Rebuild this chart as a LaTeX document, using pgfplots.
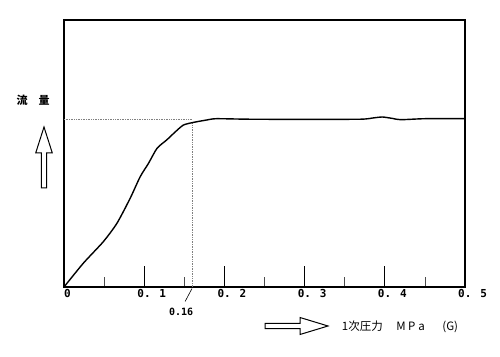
\documentclass[border=0pt]{standalone}
\usepackage{pgfplots}
\pgfplotsset{compat=1.18}
\usepackage{fontspec}
\setmainfont{Noto Sans CJK JP}
\newfontfamily\mono{DejaVu Sans Mono}
\begin{document}
\begin{tikzpicture}
\path[use as bounding box] (0,0) rectangle (500bp,357bp);
\begin{axis}[
  at={(64bp,70bp)}, anchor=south west,
  scale only axis, width=401bp, height=267bp,
  xmin=0, xmax=0.5, ymin=0, ymax=267,
  axis line style={line width=1.2bp},
  xtick={0,0.1,0.2,0.3,0.4,0.5},
  xticklabels={{\hspace*{7bp}0},{0. 1},{0. 2},{0. 3},{0. 4},{0. 5}},
  minor xtick={0.05,0.15,0.25,0.35,0.45},
  ytick=\empty,
  xtick pos=bottom, xtick align=inside,
  major tick length=21bp, minor tick length=10bp,
  every major tick/.append style={line width=1.1bp, black},
  every minor tick/.append style={line width=0.7bp, black!70},
  xticklabel style={font=\mono\bfseries\fontsize{11bp}{11bp}\selectfont, anchor=north west, inner sep=0pt, xshift=-7bp, yshift=-2.3bp},
  clip=false,
]
\addplot[gray, line width=0.7bp, densely dotted] coordinates {(0,168) (0.16,168)};
\addplot[gray, line width=0.7bp, densely dotted] coordinates {(0.16,0) (0.16,165.5)};
\addplot[black, line width=1.4bp, smooth, tension=0.4] coordinates {
(0,0) (0.024,23.7) (0.049,45.3) (0.066,63.7) (0.0825,88.7) (0.095,110.3)
(0.1054,123.7) (0.116,138.7) (0.128,147) (0.139,155.3) (0.149,162)
(0.162,164.7) (0.178,167) (0.19,168.3) (0.23,167.8) (0.3,167.6) (0.37,167.8)
(0.385,169) (0.397,170) (0.41,168.5) (0.42,167.3) (0.45,168.3) (0.5,168.3)
};
\draw[line width=0.6bp] (axis cs:0.1596,-1.5) -- (axis cs:0.151,-14.5);
\node[font=\mono\bfseries\fontsize{10bp}{10bp}\selectfont] at (axis cs:0.146,-24.7) {0.16};
\end{axis}
\begin{scope}[x=1bp, y=-1bp, yshift=357bp]
\node[font=\bfseries\fontsize{11bp}{11bp}\selectfont] at (22,100) {流};
\node[font=\bfseries\fontsize{11bp}{11bp}\selectfont] at (44,100) {量};
\draw[line width=1bp, line join=miter] (44,127) -- (52.3,153) -- (46.7,153) -- (46.7,188) -- (41.3,188) -- (41.3,153) -- (35.7,153) -- cycle;
\draw[line width=1bp, line join=miter] (328,326) -- (300,317.5) -- (300,323.3) -- (265,323.3) -- (265,328.7) -- (300,328.7) -- (300,334.5) -- cycle;
\begin{scope}[every node/.style={font=\fontsize{11.5bp}{11.5bp}\selectfont, inner sep=0pt}]
\node[anchor=base west] at (341.7,330.5) {1次圧力};
\node[anchor=base] at (401,330.5) {M};
\node[anchor=base] at (411.7,330.5) {P};
\node[anchor=base] at (421.7,330.5) {a};
\node[anchor=base east] at (458.3,330.5) {(G)};
\end{scope}
\end{scope}
\end{tikzpicture}
\end{document}
